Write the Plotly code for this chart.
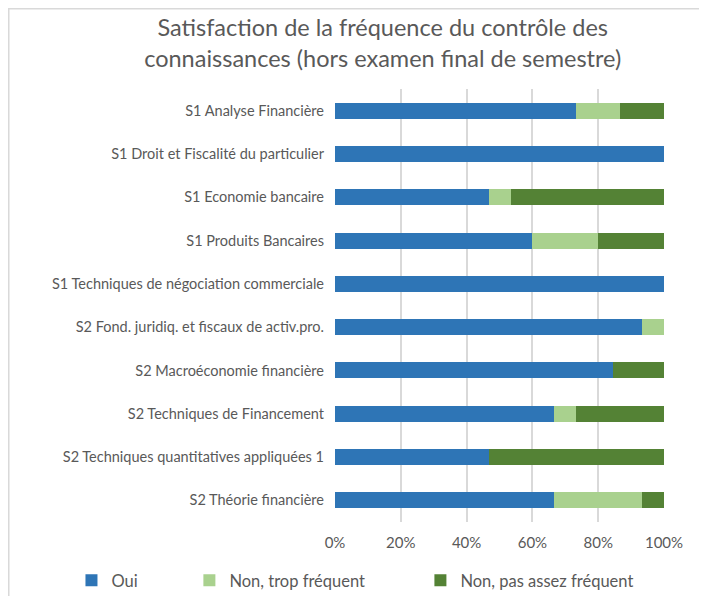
import plotly.graph_objects as go

categories = [
    "S1 Analyse Financière",
    "S1 Droit et Fiscalité du particulier",
    "S1 Economie bancaire",
    "S1 Produits Bancaires",
    "S1 Techniques de négociation commerciale",
    "S2 Fond. juridiq. et fiscaux de activ.pro.",
    "S2 Macroéconomie financière",
    "S2 Techniques de Financement",
    "S2 Techniques quantitatives appliquées 1",
    "S2 Théorie financière",
]
oui = [73.3, 100, 46.7, 60.0, 100, 93.3, 84.6, 66.7, 46.7, 66.7]
non_trop = [13.3, 0, 6.7, 20.0, 0, 6.7, 0, 6.7, 0, 26.7]
non_pas_assez = [13.3, 0, 46.7, 20.0, 0, 0, 15.4, 26.7, 53.3, 6.7]
series_names = ["Oui", "Non, trop fréquent", "Non, pas assez fréquent"]
colors = ["#2E75B6", "#A9D18E", "#548235"]
tick_vals = [0, 20, 40, 60, 80, 100]
tick_text = ["0%", "20%", "40%", "60%", "80%", "100%"]

FONT = "Lato"
GREY = "#595959"

legend_ids = ["legend", "legend2", "legend3"]
legend_x = [-0.801, -0.4426, 0.2596]

fig = go.Figure()
for name, vals, col, lid in zip(series_names, [oui, non_trop, non_pas_assez], colors, legend_ids):
    fig.add_trace(go.Bar(
        y=categories, x=vals, name=name, orientation="h",
        marker=dict(color=col, line=dict(width=0)),
        legend=lid,
    ))

legend_common = dict(
    orientation="h", xanchor="left", y=-0.0947, yanchor="top",
    font=dict(family=FONT, size=16.5, color=GREY),
    bgcolor="rgba(0,0,0,0)",
)

fig.update_layout(
    barmode="stack",
    bargap=0.63,
    width=707, height=604,
    margin=dict(l=327, r=51, t=81, b=90),
    paper_bgcolor="white", plot_bgcolor="white",
    font=dict(family=FONT, color=GREY, size=14),
    title=dict(
        text="Satisfaction de la fréquence du contrôle des<br>connaissances (hors examen final de semestre)",
        x=0.530, xanchor="center", xref="container",
        y=0.9536, yanchor="top", yref="container",
        font=dict(family=FONT, size=23.5, color=GREY),
    ),
    xaxis=dict(
        range=[0, 100], tickvals=tick_vals, ticktext=tick_text,
        showgrid=True, gridcolor="#D9D9D9", gridwidth=1.5,
        zeroline=False, showline=False, ticks="", ticklabelstandoff=10,
        tickfont=dict(family=FONT, size=15, color=GREY),
        fixedrange=True,
    ),
    yaxis=dict(
        autorange="reversed", showgrid=False, zeroline=False, showline=False,
        ticks="", ticklabelstandoff=10,
        tickfont=dict(family=FONT, size=14.5, color=GREY),
    ),
    legend=dict(x=legend_x[0], **legend_common),
    legend2=dict(x=legend_x[1], **legend_common),
    legend3=dict(x=legend_x[2], **legend_common),
    showlegend=True,
    shapes=[dict(
        type="rect", xref="paper", yref="paper",
        x0=-0.9916, x1=2.0, y0=-1.0, y1=1.1853,
        line=dict(color="#D9D9D9", width=1.5), fillcolor="rgba(0,0,0,0)",
        layer="below",
    )],
)

fig.write_html("out.html", config={"displayModeBar": False})
